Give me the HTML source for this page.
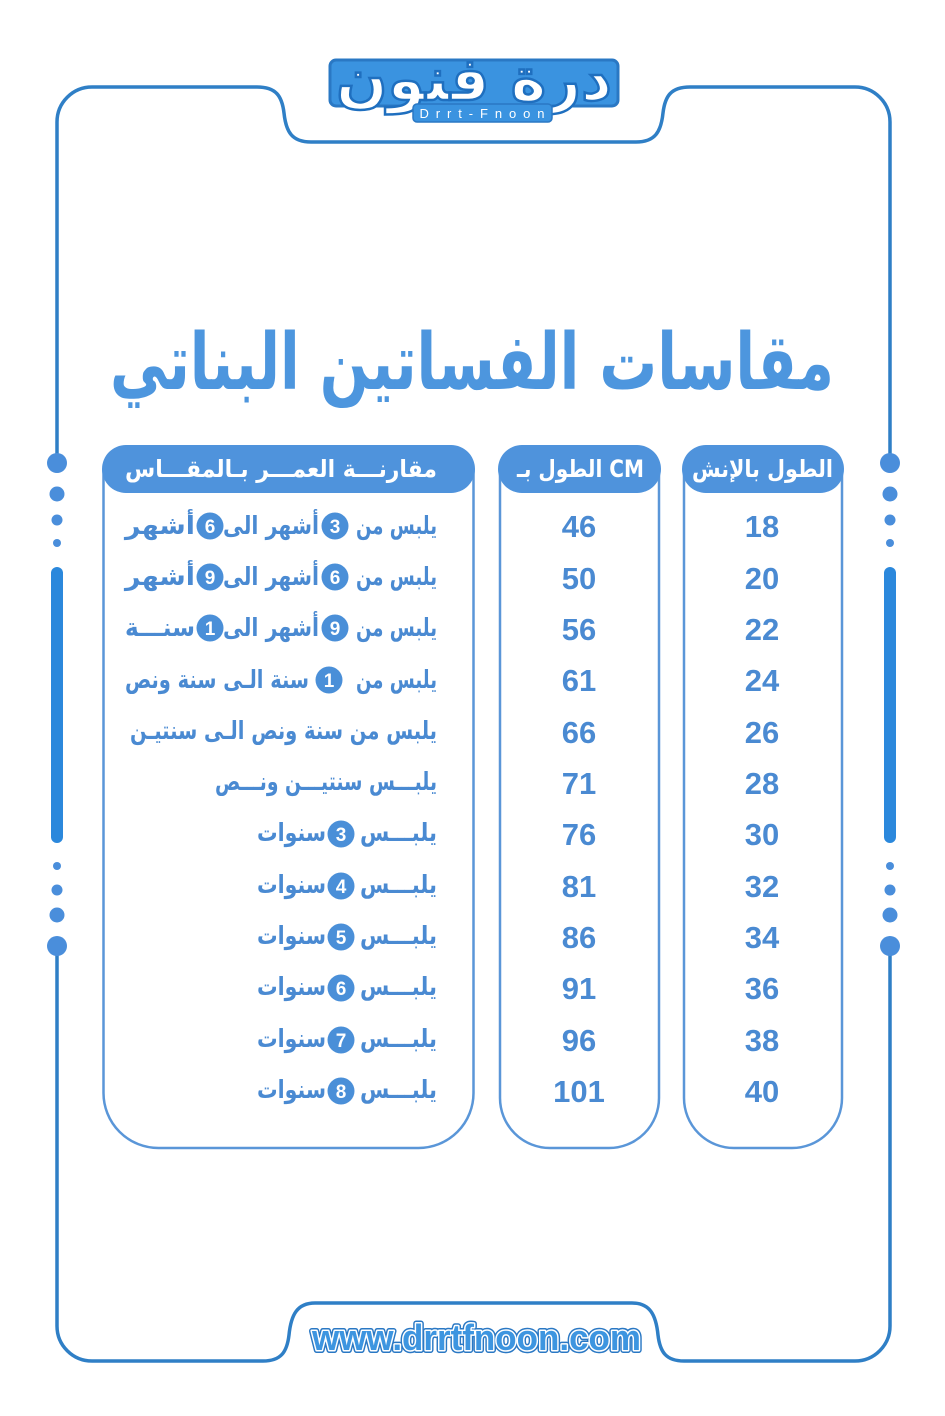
<!DOCTYPE html>
<html><head><meta charset="utf-8"><style>
html,body{margin:0;padding:0;background:#fff;}
svg{display:block;}
.ar{font-family:"DejaVu Sans","Liberation Sans",sans-serif;font-weight:bold;}
.num{font-family:"Liberation Sans","DejaVu Sans",sans-serif;font-weight:bold;}
</style></head><body>
<svg width="945" height="1416" viewBox="0 0 945 1416" xmlns="http://www.w3.org/2000/svg">
<rect width="945" height="1416" fill="#fff"/>

<!-- Frame -->
<g fill="none" stroke="#2f7fc6" stroke-width="3.5" stroke-linecap="round">
<path d="M57,453 V122 A35,35 0 0 1 92,87 H257 C276,87 282,96 284,113 C286,132 292,142 311,142 H636 C655,142 661,132 663,113 C665,96 671,87 690,87 H855 A35,35 0 0 1 890,122 V453"/>
<path d="M890,956 V1326 A35,35 0 0 1 855,1361 H684 C666,1361 660,1352 658,1335 C656,1315 650,1303 632,1303 H315 C297,1303 291,1315 289,1335 C287,1352 281,1361 263,1361 H92 A35,35 0 0 1 57,1326 V956"/>
</g>

<!-- Side decorations -->
<g fill="#4a8edb">
<circle cx="57" cy="463" r="10"/><circle cx="57" cy="494" r="7.5"/><circle cx="57" cy="520" r="5.5"/><circle cx="57" cy="543" r="4"/>
<circle cx="57" cy="866" r="4"/><circle cx="57" cy="890" r="5.5"/><circle cx="57" cy="915" r="7.5"/><circle cx="57" cy="946" r="10"/>
<circle cx="890" cy="463" r="10"/><circle cx="890" cy="494" r="7.5"/><circle cx="890" cy="520" r="5.5"/><circle cx="890" cy="543" r="4"/>
<circle cx="890" cy="866" r="4"/><circle cx="890" cy="890" r="5.5"/><circle cx="890" cy="915" r="7.5"/><circle cx="890" cy="946" r="10"/>
</g>
<rect x="51" y="567" width="12" height="276" rx="6" fill="#2b88dc"/>
<rect x="884" y="567" width="12" height="276" rx="6" fill="#2b88dc"/>

<!-- Logo -->
<rect x="330" y="60" width="288" height="46" rx="6" fill="#3a93e0" stroke="#2a78c4" stroke-width="3"/>
<text class="ar" x="474" y="100" text-anchor="middle" font-size="60" fill="#ffffff" stroke="#1f6fbf" stroke-width="2.5" textLength="276" lengthAdjust="spacingAndGlyphs">درة فنون</text>
<rect x="413" y="104" width="139" height="18" rx="4" fill="#3a93e0" stroke="#2a78c4" stroke-width="1.5"/>
<text x="482" y="118" text-anchor="middle" font-family="Liberation Sans, sans-serif" font-size="13" fill="#fff" textLength="125" lengthAdjust="spacing">Drrt-Fnoon</text>

<!-- Title -->
<text class="ar" x="472" y="389" text-anchor="middle" font-size="78" fill="#4d96de" textLength="724" lengthAdjust="spacingAndGlyphs">مقاسات الفساتين البناتي</text>

<!-- Columns -->
<g fill="none" stroke="#5a96d8" stroke-width="2.5">
<path d="M103.5,469 V1093 A55,55 0 0 0 158.5,1148 H418.5 A55,55 0 0 0 473.5,1093 V469"/>
<path d="M500,469 V1098 A50,50 0 0 0 550,1148 H609 A50,50 0 0 0 659,1098 V469"/>
<path d="M684,469 V1098 A50,50 0 0 0 734,1148 H792 A50,50 0 0 0 842,1098 V469"/>
</g>
<g fill="#4f93dc">
<rect x="102" y="445" width="373" height="48" rx="24"/>
<rect x="498" y="445" width="163" height="48" rx="24"/>
<rect x="682" y="445" width="162" height="48" rx="24"/>
</g>
<g class="ar" fill="#ffffff" font-size="24">
<text x="125" y="477" textLength="312" lengthAdjust="spacingAndGlyphs">مقارنـــة العمـــر بـالمقـــاس</text>
<text x="517" y="477" textLength="127" lengthAdjust="spacingAndGlyphs">الطول بـ CM</text>
<text x="692" y="477" textLength="141" lengthAdjust="spacingAndGlyphs">الطول بالإنش</text>
</g>

<!-- Numbers -->
<g class="num" fill="#4a8ad2" font-size="31" text-anchor="middle">
<text x="579" y="537">46</text><text x="762" y="537">18</text>
<text x="579" y="589">50</text><text x="762" y="589">20</text>
<text x="579" y="640">56</text><text x="762" y="640">22</text>
<text x="579" y="691">61</text><text x="762" y="691">24</text>
<text x="579" y="743">66</text><text x="762" y="743">26</text>
<text x="579" y="794">71</text><text x="762" y="794">28</text>
<text x="579" y="845">76</text><text x="762" y="845">30</text>
<text x="579" y="897">81</text><text x="762" y="897">32</text>
<text x="579" y="948">86</text><text x="762" y="948">34</text>
<text x="579" y="999">91</text><text x="762" y="999">36</text>
<text x="579" y="1051">96</text><text x="762" y="1051">38</text>
<text x="579" y="1102">101</text><text x="762" y="1102">40</text>
</g>

<!-- Age rows text -->
<g class="ar" fill="#4a8ad2" font-size="25">
<text x="356" y="534" textLength="81" lengthAdjust="spacingAndGlyphs">يلبس من</text>
<text x="223" y="534" textLength="96" lengthAdjust="spacingAndGlyphs">أشهر الى</text>
<text x="125" y="534" textLength="70" lengthAdjust="spacingAndGlyphs">أشهر</text>

<text x="356" y="585" textLength="81" lengthAdjust="spacingAndGlyphs">يلبس من</text>
<text x="223" y="585" textLength="96" lengthAdjust="spacingAndGlyphs">أشهر الى</text>
<text x="125" y="585" textLength="70" lengthAdjust="spacingAndGlyphs">أشهر</text>

<text x="356" y="636" textLength="81" lengthAdjust="spacingAndGlyphs">يلبس من</text>
<text x="223" y="636" textLength="96" lengthAdjust="spacingAndGlyphs">أشهر الى</text>
<text x="125" y="636" textLength="70" lengthAdjust="spacingAndGlyphs">سنـــة</text>

<text x="356" y="688" textLength="81" lengthAdjust="spacingAndGlyphs">يلبس من</text>
<text x="125" y="688" textLength="184" lengthAdjust="spacingAndGlyphs">سنة الـى سنة ونص</text>

<text x="130" y="739" textLength="307" lengthAdjust="spacingAndGlyphs">يلبس من سنة ونص الـى  سنتيـن</text>

<text x="215" y="790" textLength="222" lengthAdjust="spacingAndGlyphs">يلبـــس سنتيـــن ونـــص</text>

<text x="360" y="841" textLength="77" lengthAdjust="spacingAndGlyphs">يلبـــس</text>
<text x="257" y="841" textLength="69" lengthAdjust="spacingAndGlyphs">سنوات</text>
<text x="360" y="893" textLength="77" lengthAdjust="spacingAndGlyphs">يلبـــس</text>
<text x="257" y="893" textLength="69" lengthAdjust="spacingAndGlyphs">سنوات</text>
<text x="360" y="944" textLength="77" lengthAdjust="spacingAndGlyphs">يلبـــس</text>
<text x="257" y="944" textLength="69" lengthAdjust="spacingAndGlyphs">سنوات</text>
<text x="360" y="995" textLength="77" lengthAdjust="spacingAndGlyphs">يلبـــس</text>
<text x="257" y="995" textLength="69" lengthAdjust="spacingAndGlyphs">سنوات</text>
<text x="360" y="1047" textLength="77" lengthAdjust="spacingAndGlyphs">يلبـــس</text>
<text x="257" y="1047" textLength="69" lengthAdjust="spacingAndGlyphs">سنوات</text>
<text x="360" y="1098" textLength="77" lengthAdjust="spacingAndGlyphs">يلبـــس</text>
<text x="257" y="1098" textLength="69" lengthAdjust="spacingAndGlyphs">سنوات</text>
</g>

<!-- Number badges -->
<g fill="#4a8fd8">
<circle cx="335" cy="526" r="13.5"/><circle cx="210" cy="526" r="13.5"/>
<circle cx="335" cy="577" r="13.5"/><circle cx="210" cy="577" r="13.5"/>
<circle cx="335" cy="628" r="13.5"/><circle cx="210" cy="628" r="13.5"/>
<circle cx="329" cy="680" r="13.5"/>
<circle cx="341" cy="834" r="13.5"/>
<circle cx="341" cy="886" r="13.5"/>
<circle cx="341" cy="937" r="13.5"/>
<circle cx="341" cy="988" r="13.5"/>
<circle cx="341" cy="1040" r="13.5"/>
<circle cx="341" cy="1091" r="13.5"/>
</g>
<g class="num" fill="#ffffff" font-size="19" text-anchor="middle">
<text x="335" y="533">3</text><text x="210" y="533">6</text>
<text x="335" y="584">6</text><text x="210" y="584">9</text>
<text x="335" y="635">9</text><text x="210" y="635">1</text>
<text x="329" y="687">1</text>
<text x="341" y="841">3</text>
<text x="341" y="893">4</text>
<text x="341" y="944">5</text>
<text x="341" y="995">6</text>
<text x="341" y="1047">7</text>
<text x="341" y="1098">8</text>
</g>

<!-- URL -->
<g font-family="Liberation Sans, sans-serif" font-weight="bold" font-size="36">
<text x="313" y="1353" fill="#1e6fc0" opacity="0.45" textLength="329" lengthAdjust="spacingAndGlyphs">www.drrtfnoon.com</text>
<text x="312" y="1350" fill="none" stroke="#2a78c4" stroke-width="6" stroke-linejoin="round" textLength="329" lengthAdjust="spacingAndGlyphs">www.drrtfnoon.com</text>
<text x="312" y="1350" fill="none" stroke="#ffffff" stroke-width="3" stroke-linejoin="round" textLength="329" lengthAdjust="spacingAndGlyphs">www.drrtfnoon.com</text>
<text x="312" y="1350" fill="#3d95e0" textLength="329" lengthAdjust="spacingAndGlyphs">www.drrtfnoon.com</text>
</g>
</svg>
</body></html>
